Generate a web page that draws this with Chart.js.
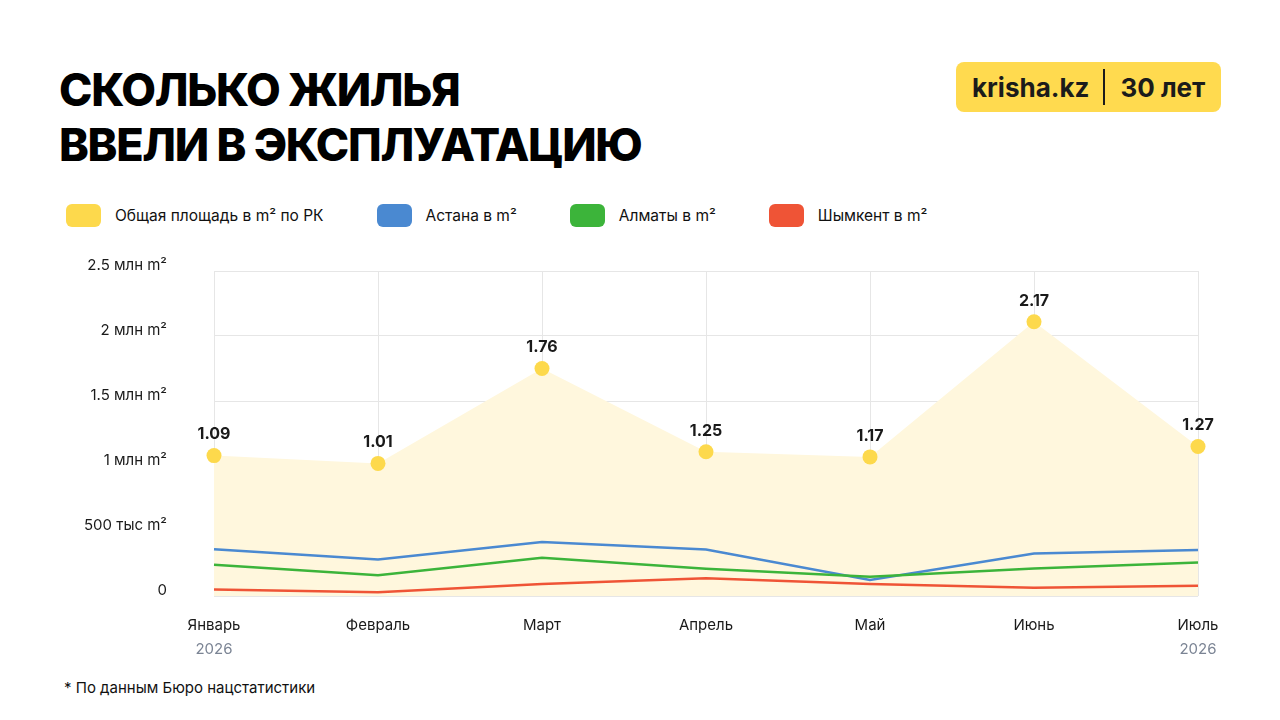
<!DOCTYPE html>
<html lang="ru">
<head>
<meta charset="utf-8">
<title>Сколько жилья ввели в эксплуатацию</title>
<script src="https://cdn.jsdelivr.net/npm/chart.js@4"></script>
<style>
  html, body { margin: 0; padding: 0; background: #fff; }
  body { width: 1280px; height: 720px; position: relative; overflow: hidden; font-family: Inter, "Noto Sans", sans-serif; color: #111; }
  .title { position: absolute; left: 59px; top: 62px; font-size: 45px; font-weight: 800; line-height: 55px; letter-spacing: -1.3px; color: #000; }
  .logo { position: absolute; left: 956px; top: 62px; width: 265px; height: 50px; background: #ffda4f; border-radius: 8px;
          display: flex; align-items: center; font-weight: 700; font-size: 26px; color: #1b1b1b; }
  .logo .a { margin-left: 16px; }
  .logo .sep { width: 2px; height: 36px; background: #1b1b1b; margin: 0 15px 0 14px; }
  .legend { position: absolute; left: 66px; top: 204px; display: flex; align-items: center; font-size: 15.5px; color: #111; }
  .legend .item { display: flex; align-items: center; margin-right: 53px; }
  .legend .box { width: 35px; height: 23px; border-radius: 6px; margin-right: 14px; }
  .chart-wrap { position: absolute; left: 0; top: 240px; width: 1280px; height: 430px; }
  .note { position: absolute; left: 64px; top: 678px; font-size: 15px; color: #111; }
</style>
</head>
<body>
<div class="title">СКОЛЬКО ЖИЛЬЯ<br>ВВЕЛИ В ЭКСПЛУАТАЦИЮ</div>
<div class="logo"><span class="a">krisha.kz</span><span class="sep"></span><span>30 лет</span></div>
<div class="legend" id="legend"></div>
<div class="chart-wrap"><canvas id="housingChart"></canvas></div>
<div class="note">* По данным Бюро нацстатистики</div>

<script>
// Data (млн m²)
const months = ["Январь", "Февраль", "Март", "Апрель", "Май", "Июнь", "Июль"];
const yearLabels = ["2026", "", "", "", "", "", "2026"];
const totalRK = [1.08, 1.02, 1.75, 1.11, 1.07, 2.11, 1.15];
const totalRKLabels = ["1.09", "1.01", "1.76", "1.25", "1.17", "2.17", "1.27"];
const astana = [0.36, 0.28, 0.416, 0.358, 0.123, 0.327, 0.353];
const almaty = [0.24, 0.16, 0.294, 0.209, 0.148, 0.212, 0.258];
const shymkent = [0.05, 0.028, 0.092, 0.136, 0.092, 0.064, 0.079];
const yTickLabels = ["0", "500 тыс m²", "1 млн m²", "1.5 млн m²", "2 млн m²", "2.5 млн m²"];

const seriesNames = ["Общая площадь в m² по РК", "Астана в m²", "Алматы в m²", "Шымкент в m²"];
const seriesColors = ["#fdd94c", "#4a89d1", "#3cb43a", "#ef5436"];

// HTML legend
let legend = document.getElementById("legend");
seriesNames.forEach(function (name, i) {
    let item = document.createElement("div");
    item.className = "item";
    item.innerHTML = '<span class="box" style="background:' + seriesColors[i] + '"></span><span>' + name + '</span>';
    legend.appendChild(item);
});

// labels above the yellow points
const valueLabels = {
    id: "valueLabels",
    afterDatasetsDraw(chart) {
        const ctx = chart.ctx;
        const meta = chart.getDatasetMeta(0);
        ctx.save();
        ctx.font = "700 16px Inter, 'Noto Sans', sans-serif";
        ctx.fillStyle = "#1a1a1a";
        ctx.textAlign = "center";
        ctx.textBaseline = "middle";
        meta.data.forEach(function (pt, i) {
            ctx.fillText(totalRKLabels[i], pt.x, pt.y - 21);
        });
        ctx.restore();
    }
};

document.addEventListener("DOMContentLoaded", function () {
    const ctx = document.getElementById("housingChart").getContext("2d");

    new Chart(ctx, {
        type: "line",
        data: {
            labels: months,
            datasets: [{
                label: seriesNames[0],
                data: totalRK,
                backgroundColor: seriesColors[0],
                borderWidth: 0,
                fill: { target: "origin", above: "#fff7dd" },
                pointRadius: 7.5,
                pointBorderWidth: 0,
                pointBackgroundColor: seriesColors[0],
                clip: false,
                order: 10
            },
            {
                label: seriesNames[1],
                data: astana,
                borderColor: seriesColors[1],
                backgroundColor: seriesColors[1],
                borderWidth: 2.5,
                pointRadius: 0,
                fill: false,
                order: 3
            },
            {
                label: seriesNames[2],
                data: almaty,
                borderColor: seriesColors[2],
                backgroundColor: seriesColors[2],
                borderWidth: 2.5,
                pointRadius: 0,
                fill: false,
                order: 2
            },
            {
                label: seriesNames[3],
                data: shymkent,
                borderColor: seriesColors[3],
                backgroundColor: seriesColors[3],
                borderWidth: 2.5,
                pointRadius: 0,
                fill: false,
                order: 1
            }]
        },
        options: {
            responsive: true,
            maintainAspectRatio: false,
            animation: false,
            layout: { padding: { top: 31, right: 82, bottom: 6, left: 0 } },
            plugins: {
                legend: { display: false },
                tooltip: { enabled: false }
            },
            scales: {
                x: {
                    grid: { color: "#e6e6e6", lineWidth: 1, drawTicks: false },
                    border: { display: false },
                    afterFit: function (scale) { scale.height = 38; },
                    ticks: {
                        padding: 20,
                        color: "#1a1a1a",
                        font: { size: 15, family: "Inter" },
                        maxRotation: 0,
                        autoSkip: false
                    }
                },
                x2: {
                    type: "category",
                    labels: yearLabels,
                    position: "bottom",
                    grid: { display: false, drawTicks: false },
                    border: { display: false },
                    afterFit: function (scale) { scale.height = 30; },
                    ticks: {
                        padding: 6,
                        color: "#7b8494",
                        font: { size: 15, family: "Inter" },
                        maxRotation: 0,
                        autoSkip: false
                    }
                },
                y: {
                    min: 0,
                    max: 2.5,
                    grid: { color: "#e6e6e6", lineWidth: 1, drawTicks: false },
                    border: { display: false },
                    afterFit: function (scale) {
                        scale.width = 214;
                        scale.paddingTop = 9;
                        scale.paddingBottom = 9;
                    },
                    ticks: {
                        stepSize: 0.5,
                        padding: 47,
                        labelOffset: -6,
                        color: "#1a1a1a",
                        font: { size: 15, family: "Inter" },
                        callback: function (value, index) { return yTickLabels[index]; }
                    }
                }
            }
        },
        plugins: [valueLabels]
    });
});
</script>
</body>
</html>
